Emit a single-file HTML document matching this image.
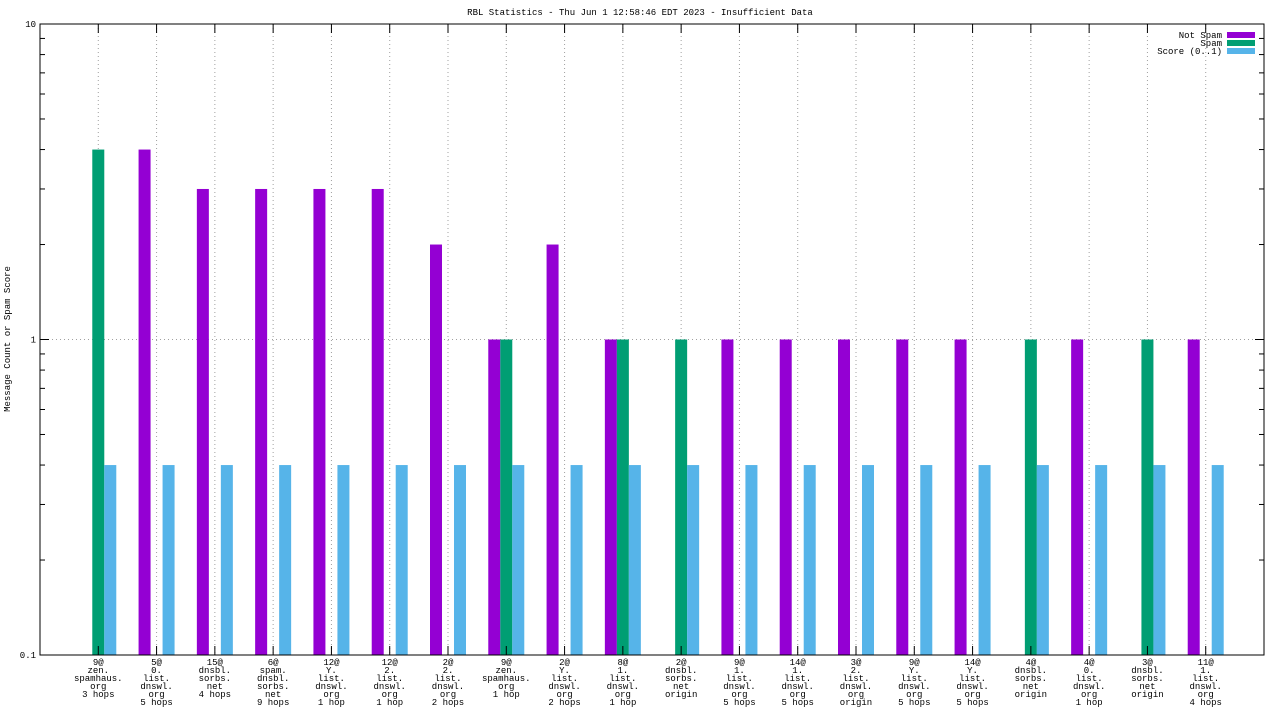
<!DOCTYPE html>
<html><head><meta charset="utf-8"><style>
body{margin:0;background:#fff}
svg{display:block;font-family:"Liberation Mono",monospace;font-size:9px}
</style></head><body>
<svg id="c" width="1280" height="720">
<text x="640" y="15" text-anchor="middle">RBL Statistics - Thu Jun  1 12:58:46 EDT 2023 - Insufficient Data</text>
<text transform="translate(10,339) rotate(-90)" text-anchor="middle">Message Count or Spam Score</text>
<g id="grid"></g><g id="bars"></g><g id="axes"></g><g id="labels"></g>
<g>
<text x="1222" y="38" text-anchor="end">Not Spam</text>
<rect x="1227" y="32" width="28" height="6" fill="#9400d3"/>
<text x="1222" y="46" text-anchor="end">Spam</text>
<rect x="1227" y="40" width="28" height="6" fill="#009e73"/>
<text x="1222" y="54" text-anchor="end">Score (0..1)</text>
<rect x="1227" y="48" width="28" height="6" fill="#56b4e9"/>
</g>
</svg>
<script>
const categories=[["9@","zen.","spamhaus.","org","3 hops"],["5@","0.","list.","dnswl.","org","5 hops"],["15@","dnsbl.","sorbs.","net","4 hops"],["6@","spam.","dnsbl.","sorbs.","net","9 hops"],["12@","Y.","list.","dnswl.","org","1 hop"],["12@","2.","list.","dnswl.","org","1 hop"],["2@","2.","list.","dnswl.","org","2 hops"],["9@","zen.","spamhaus.","org","1 hop"],["2@","Y.","list.","dnswl.","org","2 hops"],["8@","1.","list.","dnswl.","org","1 hop"],["2@","dnsbl.","sorbs.","net","origin"],["9@","1.","list.","dnswl.","org","5 hops"],["14@","1.","list.","dnswl.","org","5 hops"],["3@","2.","list.","dnswl.","org","origin"],["9@","Y.","list.","dnswl.","org","5 hops"],["14@","Y.","list.","dnswl.","org","5 hops"],["4@","dnsbl.","sorbs.","net","origin"],["4@","0.","list.","dnswl.","org","1 hop"],["3@","dnsbl.","sorbs.","net","origin"],["11@","1.","list.","dnswl.","org","4 hops"]];
const notSpam=[0,4,3,3,3,3,2,1,2,1,0,1,1,1,1,1,0,1,0,1];
const spam=[4,0,0,0,0,0,0,1,0,1,1,0,0,0,0,0,1,0,1,0];
const score=[0.4,0.4,0.4,0.4,0.4,0.4,0.4,0.4,0.4,0.4,0.4,0.4,0.4,0.4,0.4,0.4,0.4,0.4,0.4,0.4];
const yTicks=[0.1,1,10];
const yTickLabels=["0.1","1","10"];
const L=40,R=1264,T=24,B=655;
const NS="http://www.w3.org/2000/svg";
const step=(R-L)/(categories.length+1);
const X=i=>L+(i+1)*step;
const Y=v=>B-(Math.log10(v)+1)/2*(B-T);
function mk(p,tag,a){const e=document.createElementNS(NS,tag);for(const k in a)e.setAttribute(k,a[k]);document.getElementById(p).appendChild(e);return e;}
// grid
categories.forEach((c,i)=>{const g=mk('grid','line',{x1:X(i),x2:X(i),y1:T,y2:B,stroke:'#a0a0a0','stroke-dasharray':'1,3'});

});
const hg=mk('grid','line',{x1:L,x2:R,y1:Y(1),y2:Y(1),stroke:'#a0a0a0','stroke-dasharray':'1,3'});


// bars
function bar(v,i,off,col,name){if(v<=0)return;const y=Math.max(T,Y(v));const r=mk('bars','rect',{x:X(i)+off,y:y,width:12,height:B-y,fill:col});

}
categories.forEach((c,i)=>{bar(notSpam[i],i,-18,'#9400d3','bar-not-spam');bar(spam[i],i,-6,'#009e73','bar-spam');bar(score[i],i,6,'#56b4e9','bar-score');});
// axes
const fr=mk('axes','rect',{x:L,y:T,width:R-L,height:B-T,fill:'none',stroke:'#000'});


yTicks.forEach((t,k)=>{const y=Y(t);mk('axes','line',{x1:L,x2:L+9,y1:y,y2:y,stroke:'#000'});mk('axes','line',{x1:R-9,x2:R,y1:y,y2:y,stroke:'#000'});
const tx=mk('axes','text',{x:L-4,y:y+3,'text-anchor':'end'});tx.textContent=yTickLabels[k];


if(k<yTicks.length-1){for(let m=2;m<10;m++){const yy=Y(t*m);mk('axes','line',{x1:L,x2:L+5,y1:yy,y2:yy,stroke:'#000'});mk('axes','line',{x1:R-5,x2:R,y1:yy,y2:yy,stroke:'#000'});}}});
categories.forEach((c,i)=>{mk('axes','line',{x1:X(i),x2:X(i),y1:B-9,y2:B,stroke:'#000'});mk('axes','line',{x1:X(i),x2:X(i),y1:T,y2:T+9,stroke:'#000'});
const t=mk('labels','text',{x:X(i),y:665,'text-anchor':'middle'});


c.forEach((s,j)=>{const ts=document.createElementNS(NS,'tspan');ts.setAttribute('x',X(i));ts.setAttribute('y',665+j*8);ts.textContent=s;t.appendChild(ts);});});
</script>
</body></html>
